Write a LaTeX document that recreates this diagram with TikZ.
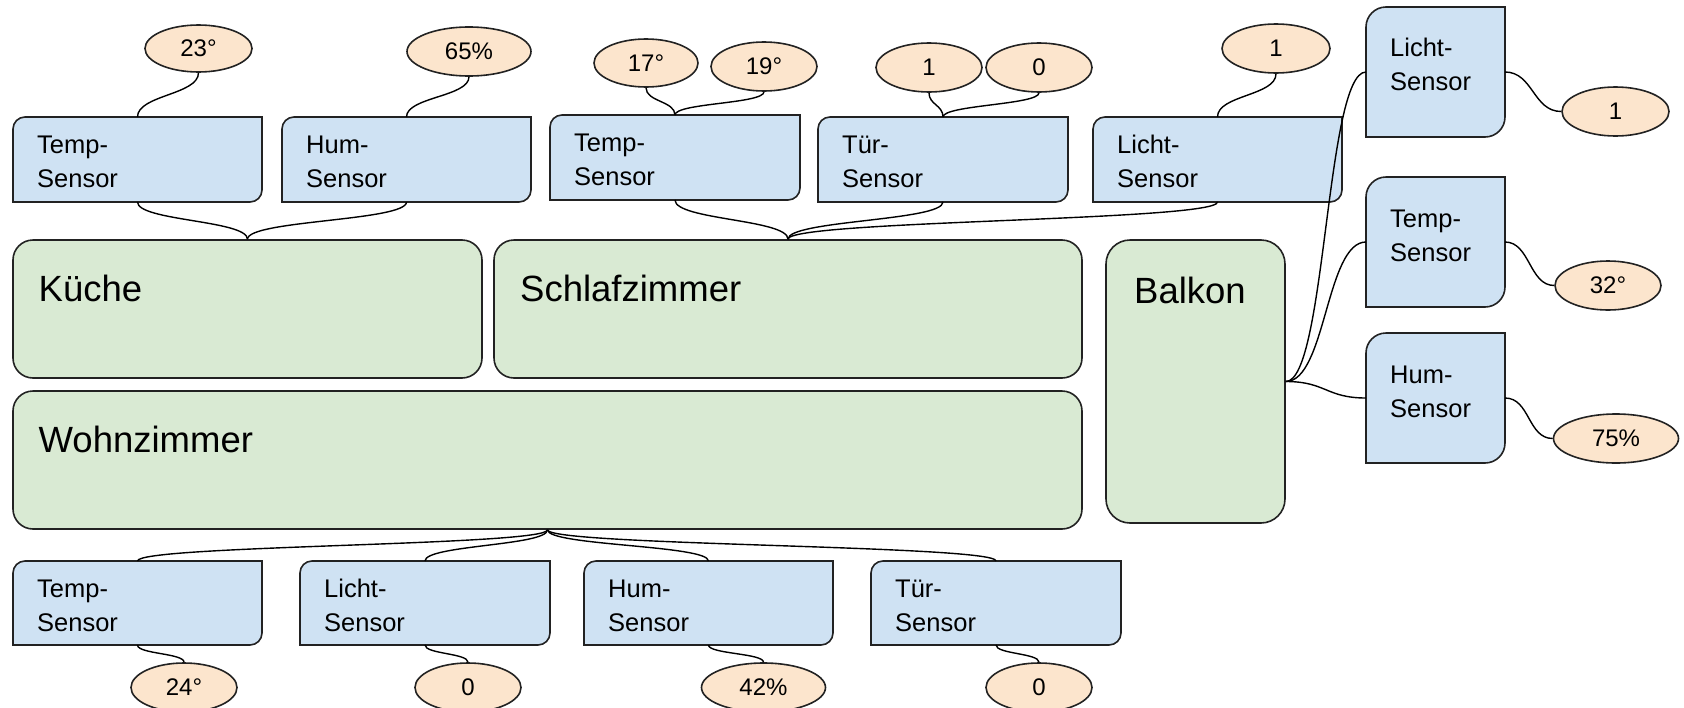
\documentclass[tikz,border=0pt]{standalone}
\usepackage{fontspec}
\setmainfont{Liberation Sans}
\usetikzlibrary{shapes.geometric,calc}
\definecolor{sensorblue}{HTML}{CFE2F3}
\definecolor{roomgreen}{HTML}{D9EAD3}
\definecolor{valorange}{HTML}{FCE5CD}
\definecolor{edgecol}{HTML}{222222}
\tikzset{
  anchorbox/.style={rectangle, inner sep=0pt, outer sep=0pt},
  sensorshape/.style={fill=sensorblue, draw=edgecol, line width=1.6pt},
  sensortext/.style={font=\fontsize{25.5}{34}\selectfont, align=left, inner sep=0pt, anchor=base west},
  room/.style={rectangle, draw=edgecol, fill=roomgreen, line width=1.6pt, rounded corners=20pt, inner sep=0pt},
  roomtext/.style={font=\fontsize{36.5}{40}\selectfont, inner sep=0pt, anchor=base west},
  val/.style={ellipse, draw=edgecol, fill=valorange, line width=1.6pt, inner sep=0pt, minimum width=106pt, minimum height=49pt, font=\fontsize{24}{28}\selectfont},
  conn/.style={draw=black, line width=1.4pt},
}
% name, x1, y1, x2, y2, corner radius, text, baseline offset of the last line
\newcommand\skbox[8]{%
  \filldraw[sensorshape] ({#2},{#5}) -- ({#2},{#3+#6}) .. controls ({#2},{#3+0.4477*#6}) and ({#2+0.4477*#6},{#3}) .. ({#2+#6},{#3}) -- ({#4},{#3}) -- ({#4},{#5-#6}) .. controls ({#4},{#5-0.4477*#6}) and ({#4-0.4477*#6},{#5}) .. ({#4-#6},{#5}) -- cycle;
  \node[anchorbox, minimum width={(#4-#2)*1pt}, minimum height={(#5-#3)*1pt}] (#1) at ({(#2+#4)/2},{(#3+#5)/2}) {};
  \node[sensortext] (#1-t) at ({#2+24},{#3+#8}) {#7};
}
\begin{document}
\begin{tikzpicture}[x=1pt,y=-1pt]
\useasboundingbox (0,0) rectangle (1684,707);
\clip (0,0) rectangle (1684,707);
% rooms
\node[room, minimum width=469pt, minimum height=138pt] (kueche) at (247.5,309) {};
\node[roomtext] (kueche-t) at (38.5,301) {Küche};
\node[room, minimum width=588pt, minimum height=138pt] (schlaf) at (788,309) {};
\node[roomtext] (schlaf-t) at (520,301) {Schlafzimmer};
\node[room, minimum width=1069pt, minimum height=138pt] (wohn) at (547.5,460) {};
\node[roomtext] (wohn-t) at (38.5,452) {Wohnzimmer};
\node[room, rounded corners=24pt, minimum width=179pt, minimum height=283pt] (balkon) at (1195.5,381.5) {};
\node[roomtext] (balkon-t) at (1134,303) {Balkon};
% top sensors
\skbox{kt}{13}{117}{262}{202}{12}{Temp-\\Sensor}{70}
\skbox{kh}{282}{117}{531}{202}{12}{Hum-\\Sensor}{70}
\skbox{st}{550}{115}{800}{200}{12}{Temp-\\Sensor}{70}
\skbox{sd}{818}{117}{1068}{202}{12}{Tür-\\Sensor}{70}
\skbox{sl}{1093}{117}{1342}{202}{12}{Licht-\\Sensor}{70}
% right sensors
\skbox{bl}{1366}{7}{1505}{137}{20}{Licht-\\Sensor}{83}
\skbox{bt}{1366}{177}{1505}{307}{20}{Temp-\\Sensor}{84}
\skbox{bh}{1366}{333}{1505}{463}{20}{Hum-\\Sensor}{84}
% bottom sensors
\skbox{wt}{13}{561}{262}{645}{12}{Temp-\\Sensor}{70}
\skbox{wl}{300}{561}{550}{645}{12}{Licht-\\Sensor}{70}
\skbox{wh}{584}{561}{833}{645}{12}{Hum-\\Sensor}{70}
\skbox{wd}{871}{561}{1121}{645}{12}{Tür-\\Sensor}{70}
% values
\node[val, minimum width=107pt, minimum height=47pt] (e23) at (198.5,48.5) {23°};
\node[val, minimum width=124pt] (e65) at (469,51.5) {65\%};
\node[val, minimum width=104pt, minimum height=48pt] (e17) at (646,63) {17°};
\node[val] (e19) at (764,66.5) {19°};
\node[val] (e1a) at (929,67.5) {1};
\node[val] (e0a) at (1039,67.5) {0};
\node[val, minimum width=108pt] (e1b) at (1276,48.5) {1};
\node[val, minimum width=107pt] (e1r) at (1615.5,111.5) {1};
\node[val] (e32) at (1608,285.5) {32°};
\node[val, minimum width=125pt] (e75) at (1616,438.5) {75\%};
\node[val] (e24) at (184,687.5) {24°};
\node[val] (e0c) at (468,687.5) {0};
\node[val, minimum width=124pt] (e42) at (763.5,687.5) {42\%};
\node[val] (e0d) at (1039,687.5) {0};
% connectors: values above top sensors
\draw[conn] (kt.north) .. controls +(0,-22) and +(0,22) .. (e23.south);
\draw[conn] (kh.north) .. controls +(0,-20) and +(0,20) .. (e65.south);
\draw[conn] (st.north) .. controls +(0,-14) and +(0,14) .. (e17.south);
\draw[conn] (st.north) .. controls +(0,-12) and +(0,12) .. (e19.south);
\draw[conn] (sd.north) .. controls +(0,-12) and +(0,12) .. (e1a.south);
\draw[conn] (sd.north) .. controls +(0,-12) and +(0,12) .. (e0a.south);
\draw[conn] (sl.north) .. controls +(0,-22) and +(0,22) .. (e1b.south);
% top sensors to rooms
\draw[conn] (kt.south) .. controls +(0,19) and +(0,-19) .. (kueche.north);
\draw[conn] (kh.south) .. controls +(0,19) and +(0,-19) .. (kueche.north);
\draw[conn] (st.south) .. controls +(0,20) and +(0,-20) .. (schlaf.north);
\draw[conn] (sd.south) .. controls +(0,19) and +(0,-19) .. (schlaf.north);
\draw[conn] (sl.south) .. controls +(0,19) and +(0,-19) .. (schlaf.north);
% wohnzimmer to bottom sensors
\draw[conn] (wohn.south) .. controls +(0,16) and +(0,-16) .. (wt.north);
\draw[conn] (wohn.south) .. controls +(0,16) and +(0,-16) .. (wl.north);
\draw[conn] (wohn.south) .. controls +(0,16) and +(0,-16) .. (wh.north);
\draw[conn] (wohn.south) .. controls +(0,16) and +(0,-16) .. (wd.north);
% bottom sensors to values
\draw[conn] (wt.south) .. controls +(0,9) and +(0,-9) .. (e24.north);
\draw[conn] (wl.south) .. controls +(0,9) and +(0,-9) .. (e0c.north);
\draw[conn] (wh.south) .. controls +(0,9) and +(0,-9) .. (e42.north);
\draw[conn] (wd.south) .. controls +(0,9) and +(0,-9) .. (e0d.north);
% balkon to right sensors
\draw[conn] (balkon.east) .. controls +(40,0) and +(-40,0) .. (bl.west);
\draw[conn] (balkon.east) .. controls +(40,0) and +(-40,0) .. (bt.west);
\draw[conn] (balkon.east) .. controls +(40,0) and +(-40,0) .. (bh.west);
% right sensors to values
\draw[conn] (bl.east) .. controls +(28,0) and +(-28,0) .. (e1r.west);
\draw[conn] (bt.east) .. controls +(25,0) and +(-25,0) .. (e32.west);
\draw[conn] (bh.east) .. controls +(25,0) and +(-25,0) .. (e75.west);
\end{tikzpicture}
\end{document}
